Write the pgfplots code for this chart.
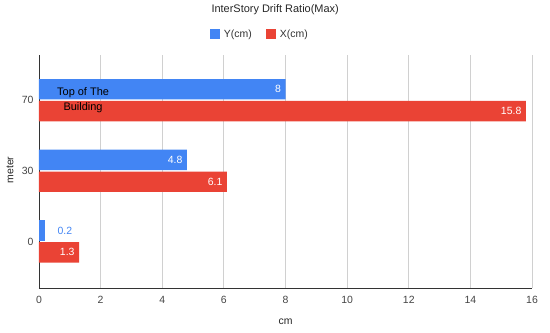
\documentclass[border=0pt]{standalone}
\usepackage{fontspec}
\setmainfont{Liberation Sans}
\usepackage{pgfplots}
\pgfplotsset{compat=1.18}
\definecolor{gblue}{HTML}{4285F4}
\definecolor{gred}{HTML}{EA4335}
\definecolor{axisgray}{HTML}{333333}
\definecolor{gridgray}{HTML}{D0D0D0}
\definecolor{ticktext}{HTML}{444444}
\begin{document}
\begin{tikzpicture}[x=1bp,y=1bp]
\useasboundingbox (-39,-44) rectangle (511,288);
\begin{axis}[
  at={(0,0)}, anchor=south west,
  width=493bp, height=233bp, scale only axis,
  xbar,
  xmin=0, xmax=16, xtick={0,2,...,16},
  ymin=-0.66, ymax=2.64, ytick={0,1,2}, yticklabels={0,30,70},
  axis x line*=bottom, axis y line*=left,
  xmajorgrids, grid style={gridgray, line width=0.8bp},
  major tick length=0pt,
  axis line style={axisgray, line width=0.8bp},
  ticklabel style={font=\fontsize{10.5}{12}\selectfont, text=ticktext},
  xticklabel style={yshift=-5bp},
  yticklabel style={xshift=-2bp},
  /pgf/number format/assume math mode=true,
  bar width=0.29,
  xlabel={cm},
  xlabel style={at={(axis description cs:0.5,0)}, anchor=center, yshift=-34bp, font=\fontsize{10.5}{12}\selectfont, text=black!85},
  title={InterStory Drift Ratio(Max)},
  title style={at={(axis description cs:0.479,1)}, anchor=center, yshift=39bp, font=\fontsize{11}{13}\selectfont, text=black!85},
  legend columns=2,
  legend style={at={(axis description cs:0.448,1)}, anchor=center, yshift=21bp, draw=none, fill=none,
    font=\fontsize{10.5}{12}\selectfont, text=black!80,
    /tikz/every odd column/.append style={column sep=2bp},
    /tikz/every even column/.append style={column sep=12bp}},
  legend image code/.code={\fill[#1] (0bp,-5bp) rectangle (10bp,5bp);},
]
\addplot[fill=gblue, draw=none, bar shift=0.155,
  nodes near coords,
  every node near coord/.append style={anchor=east, text=white, xshift=-1bp, font=\fontsize{10.5}{12}\selectfont}]
  coordinates {(8,2) (4.8,1)};
\addlegendentry{Y(cm)}
\addplot[fill=gblue, draw=none, bar shift=0.155, forget plot,
  nodes near coords,
  every node near coord/.append style={anchor=west, text=gblue, xshift=9bp, font=\fontsize{10.5}{12}\selectfont}]
  coordinates {(0.2,0)};
\addplot[fill=gred, draw=none, bar shift=-0.155,
  nodes near coords,
  every node near coord/.append style={anchor=east, text=white, xshift=-1bp, font=\fontsize{10.5}{12}\selectfont}]
  coordinates {(15.8,2) (6.1,1) (1.3,0)};
\addlegendentry{X(cm)}
\node[align=center, font=\fontsize{11}{15}\selectfont, text=black] at (axis cs:1.43,2) {Top of The\\Building};
\end{axis}
\node[rotate=90, anchor=center, font=\fontsize{10.5}{12}\selectfont, text=black!85] at (-29,118) {meter};
\end{tikzpicture}
\end{document}
